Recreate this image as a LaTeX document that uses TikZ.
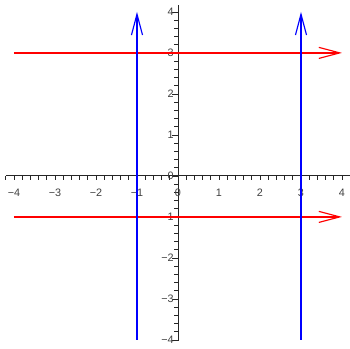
\documentclass[tikz,border=0pt]{standalone}
\usepackage{fontspec}
\setmainfont{Liberation Sans}
\usetikzlibrary{arrows.meta}
\begin{document}
\begin{tikzpicture}[x=1cm,y=1cm,
  lbl/.style={font=\fontsize{7.5}{8}\selectfont, text=black!75, inner sep=0pt},
  axisline/.style={line width=0.6pt, black!85},
  tickline/.style={line width=0.5pt, black!85},
  redline/.style={red, line width=1.2pt, -{Straight Barb[length=5.1mm,width=2.7mm,line width=0.8pt]}},
  blueline/.style={blue, line width=1.2pt, -{Straight Barb[length=5.1mm,width=2.7mm,line width=0.8pt]}}]
\useasboundingbox (-4.341,-4.22) rectangle (4.195,4.29);
% axes
\coordinate (xl) at (-4.2,0);
\coordinate (xr) at (4.2,0);
\coordinate (yb) at (0,-4.02);
\coordinate (yt) at (0,4.17);
\draw[axisline] (xl) -- (xr);
\draw[axisline] (yb) -- (yt);
% x ticks
\foreach \i in {-21,...,21} {
  \draw[tickline] (\i/5,0) -- (\i/5,-0.1);
}
% y ticks
\foreach \i in {-20,...,20} {
  \pgfmathsetmacro\ticklen{mod(\i,5)==0 ? 0.15 : 0.09}
  \draw[tickline] (0,\i/5) -- (-\ticklen,\i/5);
}
% x labels
\foreach \x/\t in {-4/−4,-3/−3,-2/−2,-1/−1,0/0,1/1,2/2,3/3,4/4} {
  \node[lbl] (xlab\x) at (\x,-0.4) {\t};
}
% y labels
\foreach \y/\t in {-4/−4,-3/−3,-2/−2,-1/−1,0/0,1/1,2/2,3/3,4/4} {
  \node[lbl, anchor=east] (ylab\y) at (-0.1,\y) {\t};
}
% lines
\coordinate (r1a) at (-4,3);
\coordinate (r1b) at (4,3);
\coordinate (r2a) at (-4,-1);
\coordinate (r2b) at (4,-1);
\coordinate (b1a) at (-1,-4);
\coordinate (b1b) at (-1,4);
\coordinate (b2a) at (3,-4);
\coordinate (b2b) at (3,4);
\draw[redline] (r1a) -- (r1b);
\draw[redline] (r2a) -- (r2b);
\draw[blueline] (b1a) -- (b1b);
\draw[blueline] (b2a) -- (b2b);
\end{tikzpicture}
\end{document}
